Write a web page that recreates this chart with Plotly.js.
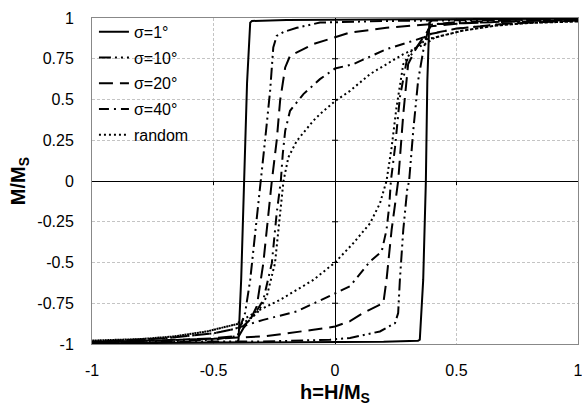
<!DOCTYPE html>
<html>
<head>
<meta charset="utf-8">
<script src="https://cdn.plot.ly/plotly-3.0.1.min.js"></script>
<style>
html,body{margin:0;padding:0;background:#fff;}
#chart{width:582px;height:406px;}
</style>
</head>
<body>
<div id="chart"></div>
<script>
// Series names
var seriesNames = ["σ=1°", "σ=10°", "σ=20°", "σ=40°", "random"];

// σ=1° : descending branch (h from +1 to -1) and ascending branch (h from -1 to +1)
var s1DescH = [1, 0.8, 0.6, 0.4, 0.2, 0, -0.2, -0.342, -0.349, -0.362, -0.374, -0.386, -0.397, -0.402, -0.6, -0.8, -1];
var s1DescM = [0.997, 0.996, 0.996, 0.995, 0.994, 0.993, 0.988, 0.982, 0.972, 0.6, 0, -0.6, -0.974, -0.99, -0.993, -0.995, -0.996];
var s1AscH  = [-1, -0.8, -0.6, -0.4, -0.2, 0, 0.2, 0.342, 0.349, 0.363, 0.374, 0.38, 0.388, 0.402, 0.6, 0.8, 1];
var s1AscM  = [-0.996, -0.995, -0.993, -0.992, -0.99, -0.99, -0.986, -0.98, -0.974, -0.607, 0, 0.615, 0.97, 0.99, 0.993, 0.995, 0.997];

// σ=10°
var s10DescH = [1, 0.7, 0.5, 0.39, 0.212, -0.062, -0.157, -0.21, -0.24, -0.254, -0.267, -0.288, -0.305, -0.322, -0.349, -0.37, -0.39, -0.4, -0.5, -0.7, -1];
var s10DescM = [0.993, 0.99, 0.988, 0.986, 0.982, 0.972, 0.94, 0.915, 0.89, 0.82, 0.553, 0.247, 0, -0.239, -0.607, -0.81, -0.893, -0.95, -0.975, -0.985, -0.993];
var s10AscH  = [-1, -0.7, -0.5, -0.295, -0.021, 0.062, 0.185, 0.247, 0.26, 0.267, 0.281, 0.297, 0.305, 0.322, 0.342, 0.363, 0.384, 0.4, 0.5, 0.7, 1];
var s10AscM  = [-0.993, -0.988, -0.984, -0.985, -0.974, -0.963, -0.923, -0.872, -0.81, -0.607, -0.3, -0.055, 0, 0.308, 0.615, 0.798, 0.931, 0.96, 0.975, 0.985, 0.993];

// σ=20°
var s20DescH = [1, 0.7, 0.5, 0.39, 0.212, 0.062, -0.089, -0.185, -0.205, -0.226, -0.24, -0.26, -0.274, -0.295, -0.322, -0.349, -0.377, -0.395, -0.5, -0.7, -1];
var s20DescM = [0.988, 0.978, 0.968, 0.962, 0.94, 0.911, 0.84, 0.768, 0.697, 0.492, 0.247, 0, -0.198, -0.504, -0.77, -0.852, -0.903, -0.95, -0.965, -0.978, -0.988];
var s20AscH  = [-1, -0.7, -0.5, -0.4, -0.295, -0.089, 0, 0.062, 0.116, 0.199, 0.212, 0.233, 0.26, 0.281, 0.301, 0.336, 0.377, 0.395, 0.5, 0.7, 1];
var s20AscM  = [-0.988, -0.978, -0.968, -0.96, -0.954, -0.913, -0.893, -0.86, -0.81, -0.749, -0.607, -0.3, 0, 0.41, 0.717, 0.82, 0.91, 0.95, 0.965, 0.978, 0.988];

// σ=40°
var s40DescH = [1, 0.7, 0.5, 0.4, 0.363, 0.212, 0.075, 0, -0.062, -0.13, -0.185, -0.205, -0.215, -0.223, -0.24, -0.26, -0.295, -0.336, -0.377, -0.42, -0.5, -0.7, -1];
var s40DescM = [0.985, 0.965, 0.935, 0.905, 0.88, 0.809, 0.717, 0.69, 0.625, 0.533, 0.431, 0.308, 0.165, 0, -0.198, -0.504, -0.729, -0.831, -0.89, -0.91, -0.935, -0.965, -0.985];
var s40AscH  = [-1, -0.7, -0.5, -0.42, -0.295, -0.157, 0, 0.062, 0.144, 0.192, 0.212, 0.223, 0.23, 0.247, 0.267, 0.295, 0.336, 0.384, 0.42, 0.5, 0.7, 1];
var s40AscM  = [-0.985, -0.965, -0.935, -0.91, -0.852, -0.8, -0.69, -0.645, -0.494, -0.433, -0.3, -0.157, 0, 0.206, 0.513, 0.737, 0.82, 0.9, 0.91, 0.935, 0.965, 0.985];

// random
var sRDescH = [1, 0.8, 0.665, 0.527, 0.41, 0.377, 0.281, 0.144, 0.062, 0, -0.062, -0.089, -0.157, -0.192, -0.212, -0.226, -0.247, -0.281, -0.32, -0.377, -0.41, -0.527, -0.665, -0.8, -1];
var sRDescM = [0.979, 0.97, 0.954, 0.923, 0.88, 0.845, 0.778, 0.656, 0.553, 0.49, 0.41, 0.37, 0.247, 0.145, 0, -0.198, -0.504, -0.709, -0.81, -0.872, -0.88, -0.923, -0.954, -0.97, -0.979];
var sRAscH  = [-1, -0.8, -0.665, -0.527, -0.41, -0.322, -0.226, -0.089, 0, 0.075, 0.144, 0.185, 0.212, 0.233, 0.253, 0.281, 0.315, 0.377, 0.41, 0.527, 0.665, 0.8, 1];
var sRAscM  = [-0.979, -0.97, -0.954, -0.923, -0.88, -0.8, -0.729, -0.607, -0.5, -0.382, -0.26, -0.137, 0, 0.206, 0.45, 0.717, 0.798, 0.87, 0.88, 0.923, 0.954, 0.97, 0.979];

// Axis ticks
var xTickVals = [-1, -0.5, 0, 0.5, 1];
var xTickText = ["-1", "-0.5", "0", "0.5", "1"];
var yTickVals = [1, 0.75, 0.5, 0.25, 0, -0.25, -0.5, -0.75, -1];
var yTickText = ["1", "0.75", "0.5", "0.25", "0", "-0.25", "-0.5", "-0.75", "-1"];

var loops = [
  [s1DescH, s1DescM, s1AscH, s1AscM],
  [s10DescH, s10DescM, s10AscH, s10AscM],
  [s20DescH, s20DescM, s20AscH, s20AscM],
  [s40DescH, s40DescM, s40AscH, s40AscM],
  [sRDescH, sRDescM, sRAscH, sRAscM]
];
var dashes = ["solid", "12px,4px,2px,4px,2px,4px", "14px,7px", "10px,5px,2px,5px", "2px,3px"];

var traces = loops.map(function (L, i) {
  return {
    type: "scatter",
    mode: "lines",
    name: seriesNames[i],
    legendgroup: "g" + i,
    x: L[0].concat(L[2]),
    y: L[1].concat(L[3]),
    line: {color: "#000", width: 2, dash: dashes[i]},
    hoverinfo: "skip"
  };
});

var shapes = [];
yTickVals.forEach(function (v) {
  if (v === 0 || Math.abs(v) === 1) return;
  shapes.push({type: "line", xref: "x", yref: "y", xsizemode: "pixel", xanchor: 0,
    x0: -3, x1: 3, y0: v, y1: v, line: {color: "#000", width: 1}});
});
xTickVals.forEach(function (v) {
  if (v === 0 || Math.abs(v) === 1) return;
  shapes.push({type: "line", xref: "x", yref: "y", ysizemode: "pixel", yanchor: 0,
    x0: v, x1: v, y0: 0, y1: -4, line: {color: "#000", width: 1}});
});

var layout = {
  width: 582, height: 406,
  margin: {l: 92, r: 4, t: 18, b: 62},
  paper_bgcolor: "#fff", plot_bgcolor: "#fff",
  font: {family: "Liberation Sans, Arial, sans-serif", size: 16, color: "#000"},
  showlegend: true,
  legend: {x: 0.004, y: 1.01, xanchor: "left", yanchor: "top", bgcolor: "rgba(0,0,0,0)",
    borderwidth: 0, tracegroupgap: 2, font: {size: 16}},
  xaxis: {
    range: [-1.0001, 1.0001], tickvals: xTickVals, ticktext: xTickText, ticks: "",
    showgrid: true, gridcolor: "#c4c4c4", griddash: "3px,2px", gridwidth: 1,
    zeroline: true, zerolinecolor: "#000", zerolinewidth: 1,
    showline: true, mirror: true, linecolor: "#888", linewidth: 1,
    ticklabelstandoff: 12, ticklabeloverflow: "allow",
    title: {text: "<b>h=H/M<sub>S</sub></b>", font: {size: 20}, standoff: 13},
    fixedrange: true
  },
  yaxis: {
    range: [-1.0001, 1.0001], tickvals: yTickVals, ticktext: yTickText, ticks: "",
    showgrid: true, gridcolor: "#c4c4c4", griddash: "3px,2px", gridwidth: 1,
    zeroline: true, zerolinecolor: "#000", zerolinewidth: 1,
    showline: true, mirror: true, linecolor: "#888", linewidth: 1,
    ticklabelstandoff: 14, ticklabeloverflow: "allow",
    title: {text: "<b>M/M<sub>S</sub></b>", font: {size: 20}, standoff: 6},
    fixedrange: true
  },
  shapes: shapes
};

Plotly.newPlot("chart", traces, layout, {displayModeBar: false, staticPlot: true});
</script>
</body>
</html>
